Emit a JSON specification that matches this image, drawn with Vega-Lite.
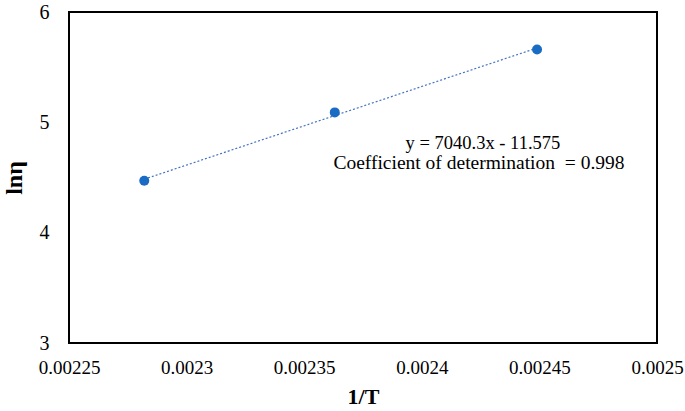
{
  "$schema": "https://vega.github.io/schema/vega-lite/v6.json",
  "autosize": {"type": "none"},
  "width": 588,
  "height": 331,
  "padding": {"left": 69, "top": 12, "right": 28, "bottom": 68},
  "background": "white",
  "config": {
    "view": {"stroke": "black", "strokeWidth": 2},
    "font": "Times New Roman, Liberation Serif, serif"
  },
  "datasets": {
    "pts": [
      {"invT": 0.002282, "lnEta": 4.47},
      {"invT": 0.002363, "lnEta": 5.09},
      {"invT": 0.002449, "lnEta": 5.66}
    ],
    "note1": [
      {"invT": 0.002426, "lnEta": 4.815, "label": "y = 7040.3x - 11.575"}
    ],
    "note2": [
      {"invT": 0.0024243, "lnEta": 4.63, "label": "Coefficient of determination\u00a0\u00a0= 0.998"}
    ]
  },
  "encoding": {
    "x": {
      "field": "invT", "type": "quantitative",
      "scale": {"domain": [0.00225, 0.0025], "nice": false, "zero": false},
      "axis": {
        "title": "1/T", "values": [0.00225, 0.0023, 0.00235, 0.0024, 0.00245, 0.0025],
        "labelExpr": "format(datum.value, '')",
        "grid": false, "ticks": false, "domain": false,
        "labelFont": "Times New Roman, Liberation Serif, serif", "labelFontSize": 19, "labelColor": "black", "labelPadding": 15,
        "labelFlush": false, "labelOverlap": false,
        "titleFont": "Times New Roman, Liberation Serif, serif", "titleFontSize": 22, "titleFontWeight": "bold", "titleColor": "black", "titlePadding": 9
      }
    },
    "y": {
      "field": "lnEta", "type": "quantitative",
      "scale": {"domain": [3, 6], "nice": false, "zero": false},
      "axis": {
        "title": "lnη", "values": [3, 4, 5, 6],
        "grid": false, "ticks": false, "domain": false,
        "labelFont": "Times New Roman, Liberation Serif, serif", "labelFontSize": 20, "labelColor": "black", "labelPadding": 20,
        "labelFlush": false,
        "titleFont": "Times New Roman, Liberation Serif, serif", "titleFontSize": 24, "titleFontWeight": "bold", "titleColor": "black", "titlePadding": 13
      }
    }
  },
  "layer": [
    {
      "data": {"name": "pts"},
      "transform": [{"regression": "lnEta", "on": "invT"}],
      "mark": {"type": "line", "color": "#4472C4", "strokeWidth": 1.2, "strokeDash": [2, 2]}
    },
    {
      "data": {"name": "pts"},
      "mark": {"type": "circle", "color": "#1a6bc4", "size": 100, "opacity": 1}
    },
    {
      "data": {"name": "note1"},
      "mark": {"type": "text", "font": "Times New Roman, Liberation Serif, serif", "fontSize": 18.5, "color": "black", "align": "center", "baseline": "middle"},
      "encoding": {"text": {"field": "label"}}
    },
    {
      "data": {"name": "note2"},
      "mark": {"type": "text", "font": "Times New Roman, Liberation Serif, serif", "fontSize": 19.5, "color": "black", "align": "center", "baseline": "middle"},
      "encoding": {"text": {"field": "label"}}
    }
  ]
}
